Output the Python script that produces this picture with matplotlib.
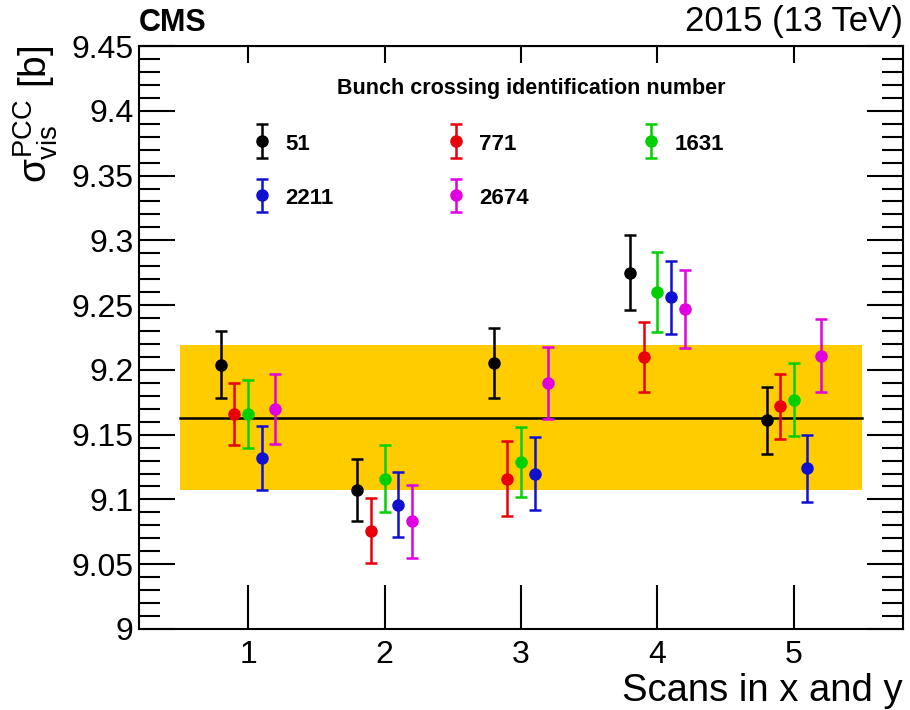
import numpy as np
import matplotlib
matplotlib.use("Agg")
import matplotlib.pyplot as plt
from matplotlib.ticker import MultipleLocator, FormatStrFormatter
from matplotlib.container import ErrorbarContainer
from matplotlib.legend_handler import HandlerErrorbar

plt.rcParams["font.family"] = ["Liberation Sans", "DejaVu Sans"]
plt.rcParams["mathtext.fontset"] = "custom"
plt.rcParams["mathtext.rm"] = "Liberation Sans"
plt.rcParams["mathtext.it"] = "Liberation Sans"

# scan index, bunch crossing ids and fitted visible cross sections [b]
scans = [1, 2, 3, 4, 5]
bcids = ["51", "771", "1631", "2211", "2674"]
colors = ["black", "#e8000b", "#00d000", "#1010d0", "#e000e0"]
offsets = [-0.2, -0.1, 0.0, 0.1, 0.2]

sigma = {
    "51":   [9.204, 9.107, 9.205, 9.275, 9.161],
    "771":  [9.166, 9.076, 9.116, 9.210, 9.172],
    "1631": [9.166, 9.116, 9.129, 9.260, 9.177],
    "2211": [9.132, 9.096, 9.120, 9.256, 9.124],
    "2674": [9.170, 9.083, 9.190, 9.247, 9.211],
}
sigma_err = {
    "51":   [0.026, 0.024, 0.027, 0.029, 0.026],
    "771":  [0.024, 0.025, 0.029, 0.027, 0.025],
    "1631": [0.026, 0.026, 0.027, 0.031, 0.028],
    "2211": [0.025, 0.025, 0.028, 0.028, 0.026],
    "2674": [0.027, 0.028, 0.028, 0.030, 0.028],
}

mean_sigma = 9.163
band_half = 0.056
band_range = [0.5, 5.5]

fig = plt.figure(figsize=(9.1, 7.1), dpi=100)
ax = fig.add_axes([0.1527, 0.1141, 0.8396, 0.8211])

ax.fill_between(band_range, mean_sigma - band_half, mean_sigma + band_half,
                color="#ffcc00", lw=0, zorder=1)
ax.plot(band_range, [mean_sigma, mean_sigma], color="black", lw=1.8, zorder=2)

handles = {}
for bc, col, off in zip(bcids, colors, offsets):
    x = np.array(scans) + off
    handles[bc] = ax.errorbar(x, sigma[bc], yerr=sigma_err[bc], fmt="o", color=col,
                              ms=8, elinewidth=1.8, capsize=4, capthick=1.8, zorder=3)

ax.set_xlim(0.2, 5.8)
ax.set_ylim(9.0, 9.45)
ax.xaxis.set_major_locator(MultipleLocator(1))
ax.yaxis.set_major_locator(MultipleLocator(0.05))
ax.yaxis.set_minor_locator(MultipleLocator(0.01))
ax.yaxis.set_major_formatter(FormatStrFormatter("%g"))
ax.xaxis.set_major_formatter(FormatStrFormatter("%g"))

for s in ax.spines.values():
    s.set_linewidth(1.5)
ax.tick_params(axis="y", which="major", direction="in", length=26, width=1.5,
               left=True, right=True, labelsize=23, pad=4)
ax.tick_params(axis="y", which="minor", direction="in", length=15, width=1.5,
               left=True, right=True)
ax.tick_params(axis="x", which="major", direction="in", length=32, width=1.5,
               top=False, labelsize=23, pad=8)
top = ax.secondary_xaxis("top")
top.xaxis.set_major_locator(MultipleLocator(1))
top.tick_params(axis="x", direction="in", length=12, width=1.5, labeltop=False)

ax.set_xlabel("Scans in x and y", fontsize=27.5, loc="right", labelpad=2)
ax.set_ylabel(r"$\sigma^{\mathrm{PCC}}_{\mathrm{vis}}$ [b]", fontsize=28,
              loc="top", labelpad=8)

fig.text(0.1527, 0.947, "CMS", fontsize=22, fontweight="bold", ha="left", va="bottom")
fig.text(0.992, 0.947, "2015 (13 TeV)", fontsize=25, ha="right", va="bottom")

# legend header placed on its own, entries anchored below it
ax.text(0.513, 0.927, "Bunch crossing identification number", transform=ax.transAxes,
        ha="center", va="center", fontsize=15.5, fontweight="bold")

# legend is filled column by column: order so rows read 51 771 1631 / 2211 2674
leg_order = ["51", "2211", "771", "2674", "1631"]
leg = ax.legend([handles[b] for b in leg_order], leg_order, ncol=3,
                loc="upper left", bbox_to_anchor=(0.1175, 0.8866), frameon=False,
                prop={"weight": "bold", "size": 16},
                handler_map={ErrorbarContainer: HandlerErrorbar(yerr_size=0.75)},
                handlelength=1.2, handletextpad=0.45, columnspacing=4.9,
                labelspacing=1.43, handleheight=1.0)

fig.savefig("out.png", dpi=100)
